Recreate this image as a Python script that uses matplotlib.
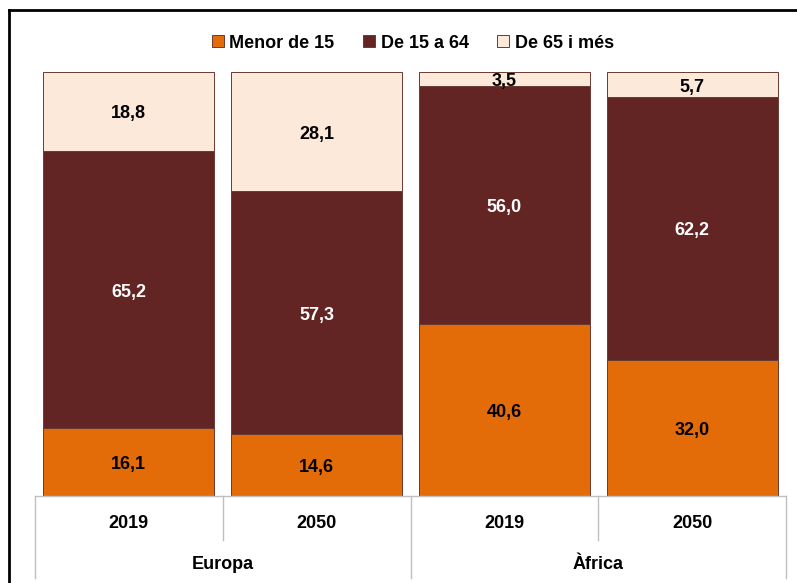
import matplotlib.pyplot as plt
import matplotlib.transforms as mtransforms
from matplotlib.lines import Line2D
from matplotlib.patches import Patch
import numpy as np

years = ['2019', '2050', '2019', '2050']
groups = ['Europa', 'Àfrica']
series_names = ['Menor de 15', 'De 15 a 64', 'De 65 i més']
menor15 = [16.1, 14.6, 40.6, 32.0]
de15a64 = [65.2, 57.3, 56.0, 62.2]
de65 = [18.8, 28.1, 3.5, 5.7]

colors = ['#E36C09', '#632523', '#FDE9D9']
text_colors = ['black', 'white', 'black']

plt.rcParams['font.family'] = ['Liberation Sans Narrow', 'Liberation Sans', 'DejaVu Sans']
plt.rcParams['font.weight'] = 'bold'

fig = plt.figure(figsize=(7.97, 5.83), dpi=100)
ax = fig.add_axes([35 / 797, 87 / 583, 751 / 797, 424 / 583])

x = np.arange(len(years))
bottom = np.zeros(len(years))
for vals, c, tc, name in zip([menor15, de15a64, de65], colors, text_colors, series_names):
    vals = np.array(vals)
    ax.bar(x, vals, 0.91, bottom=bottom, color=c, edgecolor='#6b3a30', linewidth=0.7, label=name)
    for xi, b, v in zip(x, bottom, vals):
        ax.text(xi, b + v / 2 - 0.6, f'{v:.1f}'.replace('.', ','), ha='center', va='center',
                color=tc, fontsize=13, fontweight='bold')
    bottom += vals

ax.set_xlim(-0.5, 3.5)
ax.set_ylim(0, 100)
ax.set_yticks([])
ax.set_xticks([])
for s in ['top', 'left', 'right']:
    ax.spines[s].set_visible(False)
ax.spines['bottom'].set_color('#bfbfbf')
ax.spines['bottom'].set_linewidth(1)

# hierarchical category axis
trans = mtransforms.blended_transform_factory(ax.transData, ax.transAxes)
for xs in [-0.5, 0.5, 1.5, 2.5, 3.5]:
    low = -0.193 if xs in (-0.5, 1.5, 3.5) else -0.104
    ax.add_line(Line2D([xs, xs], [0, low], transform=trans, color='#bfbfbf',
                       linewidth=1, clip_on=False))
for xi, yr in zip(x, years):
    ax.text(xi, -0.064, yr, transform=trans, ha='center', va='center', fontsize=13,
            fontweight='bold')
for gi, g in enumerate(groups):
    ax.text(0.5 + 2 * gi, -0.162, g, transform=trans, ha='center', va='center',
            fontsize=13, fontweight='bold')

handles = [Patch(facecolor=c, edgecolor='#6b3a30', linewidth=0.7) for c in colors]
fig.legend(handles, series_names, loc='center', bbox_to_anchor=(413 / 797, 1 - 43 / 583),
           ncol=3, frameon=False, fontsize=13, handlelength=0.65, handleheight=0.65,
           handletextpad=0.3, columnspacing=1.6)

# outer frame
fig.add_artist(Line2D([9 / 797, 1.0], [1 - 10 / 583, 1 - 10 / 583], color='black',
                      linewidth=2, transform=fig.transFigure))
fig.add_artist(Line2D([9 / 797, 9 / 797], [0.0, 1 - 10 / 583], color='black',
                      linewidth=2, transform=fig.transFigure))

fig.savefig('out.png', dpi=100)
